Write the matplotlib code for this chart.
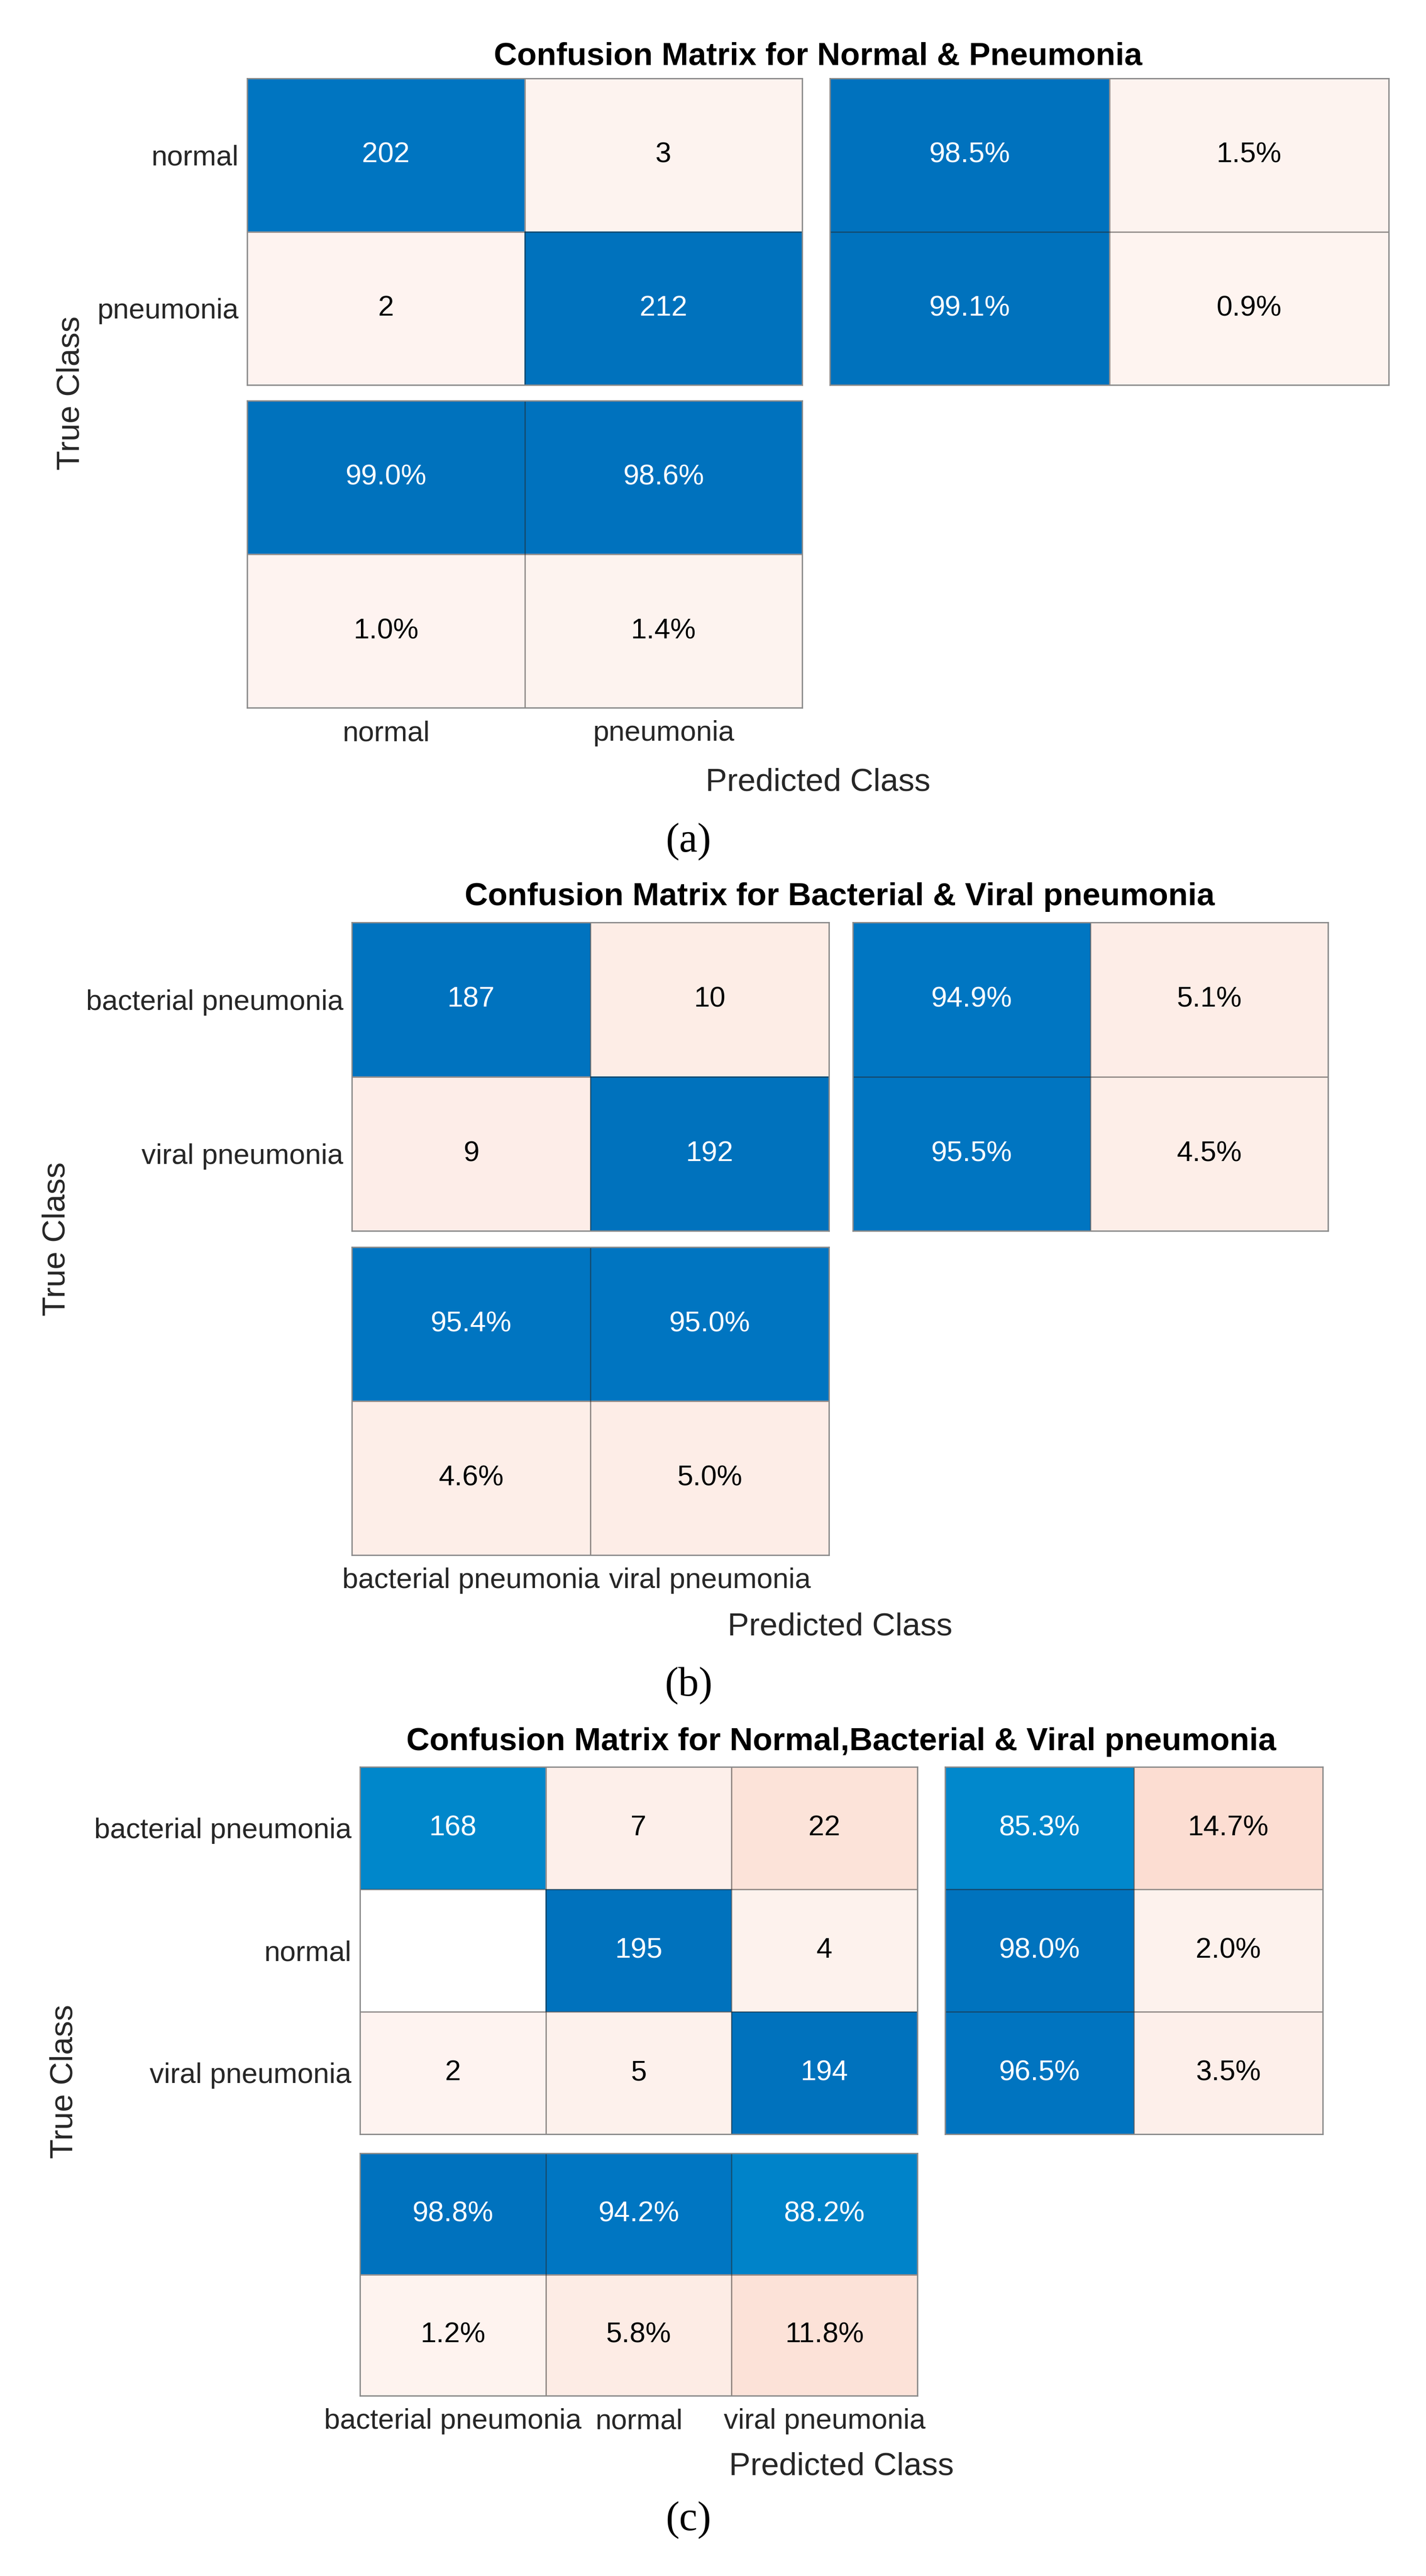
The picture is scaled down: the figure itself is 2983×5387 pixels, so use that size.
import numpy as np
import matplotlib
matplotlib.use('Agg')
import matplotlib.pyplot as plt
from matplotlib.colors import LinearSegmentedColormap, to_rgb

plt.rcParams['font.family'] = ['Liberation Sans', 'DejaVu Sans']

# --- data ---
labels_a = ['normal', 'pneumonia']
counts_a = [[202, 3], [2, 212]]
row_pct_a = [[98.5, 1.5], [99.1, 0.9]]
col_pct_a = [[99.0, 98.6], [1.0, 1.4]]
title_a = 'Confusion Matrix for Normal & Pneumonia'

labels_b = ['bacterial pneumonia', 'viral pneumonia']
counts_b = [[187, 10], [9, 192]]
row_pct_b = [[94.9, 5.1], [95.5, 4.5]]
col_pct_b = [[95.4, 95.0], [4.6, 5.0]]
title_b = 'Confusion Matrix for Bacterial & Viral pneumonia'

labels_c = ['bacterial pneumonia', 'normal', 'viral pneumonia']
counts_c = [[168, 7, 22], [0, 195, 4], [2, 5, 194]]
row_pct_c = [[85.3, 14.7], [98.0, 2.0], [96.5, 3.5]]
col_pct_c = [[98.8, 94.2, 88.2], [1.2, 5.8, 11.8]]
title_c = 'Confusion Matrix for Normal,Bacterial & Viral pneumonia'

W, H = 2983, 5387
fig = plt.figure(figsize=(W / 100, H / 100), dpi=100)

GOOD = LinearSegmentedColormap.from_list(
    'good', [(0, '#ffffff'), (0.86, '#0088cc'), (0.95, '#0076c2'), (1, '#0072bd')])
BAD = np.array(to_rgb('#f05319'))
EDGE = (0.15, 0.15, 0.15, 0.55)
TICK = '#262626'
FS = 43


def bad_color(frac):
    if frac <= 0:
        return (1.0, 1.0, 1.0)
    t = 0.055 + 0.95 * frac
    return tuple((1 - t) * np.ones(3) + t * BAD)


def good_color(frac):
    return GOOD(frac)[:3]


def add_box(x0, y0, x1, y1):
    # pixel box, origin top-left
    return fig.add_axes([x0 / W, 1 - y1 / H, (x1 - x0) / W, (y1 - y0) / H])


def fill_cells(ax, colors, texts, dark):
    rgb = np.array(colors)
    ax.imshow(rgb, aspect='auto', interpolation='nearest')
    nr, nc = rgb.shape[:2]
    for i in range(nr):
        for j in range(nc):
            if texts[i][j]:
                ax.text(j, i, texts[i][j], ha='center', va='center',
                        fontsize=FS, color='white' if dark[i][j] else 'black')
    for k in range(1, nr):
        ax.axhline(k - 0.5, color=EDGE, lw=1.8)
    for k in range(1, nc):
        ax.axvline(k - 0.5, color=EDGE, lw=1.8)
    ax.set_xticks([])
    ax.set_yticks([])
    for s in ax.spines.values():
        s.set_color('#8a8a8a')
        s.set_linewidth(2)


def draw_panel(labels, counts, row_pct, col_pct, title, caption, lay):
    counts = np.array(counts)
    n = len(labels)
    vmax = counts.max()

    # main matrix
    ax = add_box(*lay['main'])
    colors = [[good_color(counts[i, j] / vmax) if i == j else bad_color(counts[i, j] / vmax)
               for j in range(n)] for i in range(n)]
    texts = [[str(counts[i, j]) if counts[i, j] > 0 else '' for j in range(n)] for i in range(n)]
    dark = [[i == j for j in range(n)] for i in range(n)]
    fill_cells(ax, colors, texts, dark)
    ax.set_yticks(range(n))
    ax.set_yticklabels(labels, fontsize=FS, color=TICK)
    ax.tick_params(length=0, pad=13)

    # row summary (right)
    ax = add_box(*lay['right'])
    colors = [[good_color(r[0] / 100), bad_color(r[1] / 100)] for r in row_pct]
    texts = [[f'{r[0]:.1f}%', f'{r[1]:.1f}%'] for r in row_pct]
    dark = [[True, False] for _ in row_pct]
    fill_cells(ax, colors, texts, dark)

    # column summary (bottom)
    ax = add_box(*lay['bottom'])
    colors = [[good_color(p / 100) for p in col_pct[0]],
              [bad_color(p / 100) for p in col_pct[1]]]
    texts = [[f'{p:.1f}%' for p in row] for row in col_pct]
    dark = [[True] * n, [False] * n]
    fill_cells(ax, colors, texts, dark)
    ax.set_xticks(range(n))
    ax.set_xticklabels(labels, fontsize=FS, color=TICK)
    ax.tick_params(length=0, pad=19)

    x_left = lay['main'][0]
    x_right = lay['right'][2]
    xc = (x_left + x_right) / 2 / W
    fig.text(xc, 1 - lay['title_y'] / H, title, ha='center', va='center',
             fontsize=48.4, fontweight='bold', color='black')
    fig.text(xc, 1 - lay['xlabel_y'] / H, 'Predicted Class', ha='center', va='center',
             fontsize=48.4, color=TICK)
    yc = (lay['main'][1] + lay['bottom'][3]) / 2
    fig.text(lay['ylabel_x'] / W, 1 - yc / H, 'True Class', ha='center', va='center',
             rotation=90, fontsize=48.4, color=TICK)
    fig.text(1440 / W, 1 - lay['caption_y'] / H, caption, ha='center', va='center',
             fontsize=62, family=['Liberation Serif', 'DejaVu Serif'], color='black')


layout_a = dict(main=(517, 164, 1678, 805), right=(1736, 164, 2905, 805),
                bottom=(517, 838, 1678, 1480), title_y=118, xlabel_y=1636,
                ylabel_x=149, caption_y=1760)
layout_b = dict(main=(736, 1929, 1734, 2574), right=(1784, 1929, 2778, 2574),
                bottom=(736, 2608, 1734, 3252), title_y=1876, xlabel_y=3402,
                ylabel_x=119, caption_y=3525)
layout_c = dict(main=(753, 3695, 1919, 4463), right=(1977, 3695, 2767, 4463),
                bottom=(753, 4503, 1919, 5010), title_y=3643, xlabel_y=5158,
                ylabel_x=134, caption_y=5270)

draw_panel(labels_a, counts_a, row_pct_a, col_pct_a, title_a, '(a)', layout_a)
draw_panel(labels_b, counts_b, row_pct_b, col_pct_b, title_b, '(b)', layout_b)
draw_panel(labels_c, counts_c, row_pct_c, col_pct_c, title_c, '(c)', layout_c)

fig.savefig('out.png', dpi=100, facecolor='white')
